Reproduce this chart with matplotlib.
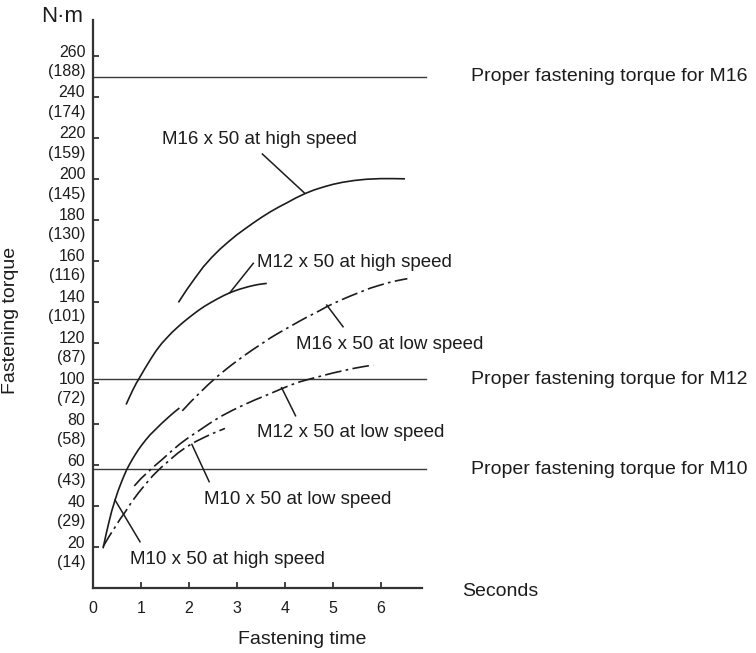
import matplotlib
matplotlib.use("Agg")
import matplotlib.pyplot as plt
from matplotlib.transforms import ScaledTranslation

plt.rcParams['font.family'] = ['Liberation Sans', 'DejaVu Sans']

# Axis ticks: torque in N·m with ft·lbs in parentheses, time in seconds
torque_ticks = [20, 40, 60, 80, 100, 120, 140, 160, 180, 200, 220, 240, 260]
torque_ftlb = [14, 29, 43, 58, 72, 87, 101, 116, 130, 145, 159, 174, 188]
time_ticks = [0, 1, 2, 3, 4, 5, 6]

# Proper fastening torque per bolt size (N·m)
proper_sizes = ["M16", "M12", "M10"]
proper_torque = [250, 102, 58]

# Fastening curves: time (s) vs torque (N·m)
m16_high_t = [1.78, 1.95, 2.12, 2.30, 2.47, 2.65, 2.82, 2.99, 3.17, 3.35, 3.52,
              3.69, 3.87, 4.05, 4.23, 4.42, 4.60, 4.80, 5.00, 5.20, 5.45, 5.70,
              6.00, 6.25, 6.50]
m16_high_nm = [139.6, 145.7, 151.3, 157.0, 161.5, 165.7, 169.2, 172.5, 175.6,
               178.6, 181.3, 183.8, 186.2, 188.4, 190.7, 192.8, 194.5, 196.0,
               197.3, 198.3, 199.2, 199.8, 200.1, 200.1, 200.0]

m12_high_t = [0.69, 0.76, 0.83, 0.90, 0.98, 1.09, 1.20, 1.31, 1.43, 1.54, 1.64,
              1.75, 1.85, 1.97, 2.09, 2.21, 2.33, 2.46, 2.59, 2.72, 2.85, 2.95,
              3.05, 3.15, 3.24, 3.33, 3.43, 3.52, 3.62]
m12_high_nm = [89.7, 93.3, 96.8, 100.0, 103.2, 107.6, 111.8, 115.8, 119.5, 122.3,
               124.8, 127.2, 129.3, 131.6, 133.8, 135.9, 137.8, 139.6, 141.3,
               142.9, 144.3, 145.2, 146.0, 146.7, 147.3, 147.8, 148.3, 148.6, 148.9]

m10_high_t = [0.21, 0.27, 0.33, 0.39, 0.46, 0.52, 0.58, 0.64, 0.70, 0.76, 0.82,
              0.88, 0.94, 1.02, 1.10, 1.19, 1.29, 1.41, 1.53, 1.66, 1.80]
m10_high_nm = [19.4, 26.0, 32.0, 37.6, 43.0, 47.3, 51.0, 54.5, 57.7, 60.4, 62.9,
               65.2, 67.4, 70.0, 72.4, 74.9, 77.2, 80.0, 82.6, 85.3, 88.0]

m16_low_t = [1.86, 2.04, 2.22, 2.40, 2.58, 2.73, 2.88, 3.03, 3.17, 3.31, 3.45,
             3.58, 3.70, 3.85, 4.00, 4.15, 4.30, 4.45, 4.60, 4.74, 4.87, 5.04,
             5.20, 5.35, 5.50, 5.64, 5.77, 5.96, 6.15, 6.35, 6.55]
m16_low_nm = [86.6, 91.1, 95.3, 99.4, 103.2, 106.1, 108.9, 111.5, 113.9, 116.2,
              118.4, 120.4, 122.3, 124.4, 126.4, 128.4, 130.4, 132.3, 134.1,
              135.8, 137.5, 139.4, 141.1, 142.6, 144.0, 145.3, 146.5, 147.9,
              149.2, 150.3, 151.2]

m12_low_t = [0.86, 1.00, 1.15, 1.29, 1.43, 1.62, 1.81, 2.00, 2.20, 2.42, 2.65,
             2.90, 3.15, 3.38, 3.62, 3.79, 3.96, 4.13, 4.31, 4.45, 4.59, 4.80,
             5.00, 5.21, 5.42, 5.63, 5.84]
m12_low_nm = [49.9, 53.5, 56.8, 59.8, 62.6, 66.6, 70.4, 73.7, 76.8, 80.3, 83.7,
              86.8, 89.6, 92.0, 94.3, 96.0, 97.7, 99.3, 100.8, 101.7, 102.6,
              103.9, 105.1, 106.2, 107.3, 108.2, 109.0]

m10_low_t = [0.21, 0.33, 0.45, 0.56, 0.68, 0.81, 0.95, 1.10, 1.25, 1.42, 1.60,
             1.77, 1.95, 2.15, 2.35, 2.55, 2.75]
m10_low_nm = [20.2, 25.0, 29.4, 33.5, 37.5, 42.2, 46.6, 50.9, 55.0, 58.9, 62.6,
              66.0, 69.0, 71.7, 74.0, 76.1, 78.0]

ink = '#1c1c1c'
axis_col = '#333333'
dashdot = (0, (10, 2.6, 1.6, 2.6))

fig = plt.figure(figsize=(7.56, 6.53), dpi=100)
ax = fig.add_axes([0.1230, 0.0995, 0.4349, 0.8698])
ax.set_xlim(0, 6.85)
ax.set_ylim(0, 277.6)

for side in ('top', 'right'):
    ax.spines[side].set_visible(False)
for side in ('left', 'bottom'):
    ax.spines[side].set_linewidth(1.6)
    ax.spines[side].set_color(axis_col)

ax.set_xticks(time_ticks)
ax.set_xticklabels([str(t) for t in time_ticks])
ax.set_yticks(torque_ticks)
ax.set_yticklabels([f"{nm}\n({ft})" for nm, ft in zip(torque_ticks, torque_ftlb)],
                   linespacing=1.35)
ax.tick_params(direction='in', length=4, width=1.3, colors=axis_col,
               labelcolor=ink, labelsize=11.5)
ax.tick_params(axis='x', pad=9)
ax.tick_params(axis='y', pad=5.5)

# nudge the two-line torque labels so the N·m value sits just above its tick
shift = ScaledTranslation(0, -2 / 100, fig.dpi_scale_trans)
for lab in ax.get_yticklabels():
    lab.set_transform(lab.get_transform() + shift)

# Proper-torque reference lines with their captions
for size, val in zip(proper_sizes, proper_torque):
    ax.plot([0, 6.94], [val, val], color='#3a3a3a', lw=1.0, clip_on=False)
    ax.text(7.88, val, f"Proper fastening torque for {size}", fontsize=14,
            color=ink, ha='left', va='center', clip_on=False)

# High-speed curves (solid) and low-speed curves (dash-dot)
line_kw = dict(color=ink, lw=1.2, solid_capstyle='butt', solid_joinstyle='round')
ax.plot(m16_high_t, m16_high_nm, **line_kw)
ax.plot(m12_high_t, m12_high_nm, **line_kw)
ax.plot(m10_high_t, m10_high_nm, **line_kw)
ax.plot(m16_low_t, m16_low_nm, linestyle=dashdot, **line_kw)
ax.plot(m12_low_t, m12_low_nm, linestyle=dashdot, **line_kw)
ax.plot(m10_low_t, m10_low_nm, linestyle=dashdot, **line_kw)

# Curve captions with leader lines
captions = [
    ("M16 x 50 at high speed", (1.44, 219.0), (4.40, 193.2), (3.53, 212.1)),
    ("M12 x 50 at high speed", (3.42, 159.0), (2.85, 144.3), (3.34, 158.7)),
    ("M16 x 50 at low speed", (4.24, 119.0), (4.87, 138.3), (5.21, 127.7)),
    ("M12 x 50 at low speed", (3.42, 75.8), (3.93, 97.9), (4.22, 84.2)),
    ("M10 x 50 at low speed", (2.31, 43.2), (2.06, 70.2), (2.42, 52.0)),
    ("M10 x 50 at high speed", (0.77, 14.0), (0.46, 43.0), (0.98, 22.6)),
]
for text, (tx, ty), (x0, y0), (x1, y1) in captions:
    ax.plot([x0, x1], [y0, y1], color=ink, lw=1.1, clip_on=False)
    ax.text(tx, ty, text, fontsize=13.5, color=ink, ha='left', va='center',
            clip_on=False)

ax.text(7.69, -1.5, "Seconds", fontsize=14, color=ink, ha='left', va='center',
        clip_on=False)

fig.text(62 / 756, 1 - 16 / 653, "N·m", fontsize=16, color=ink,
         ha='center', va='center')
fig.text(11 / 756, 1 - 320 / 653, "Fastening torque", fontsize=14, color=ink,
         rotation=90, ha='center', va='center')
fig.text(302 / 756, 1 - 640 / 653, "Fastening time", fontsize=14, color=ink,
         ha='center', va='center')

fig.savefig('out.png', dpi=100)
